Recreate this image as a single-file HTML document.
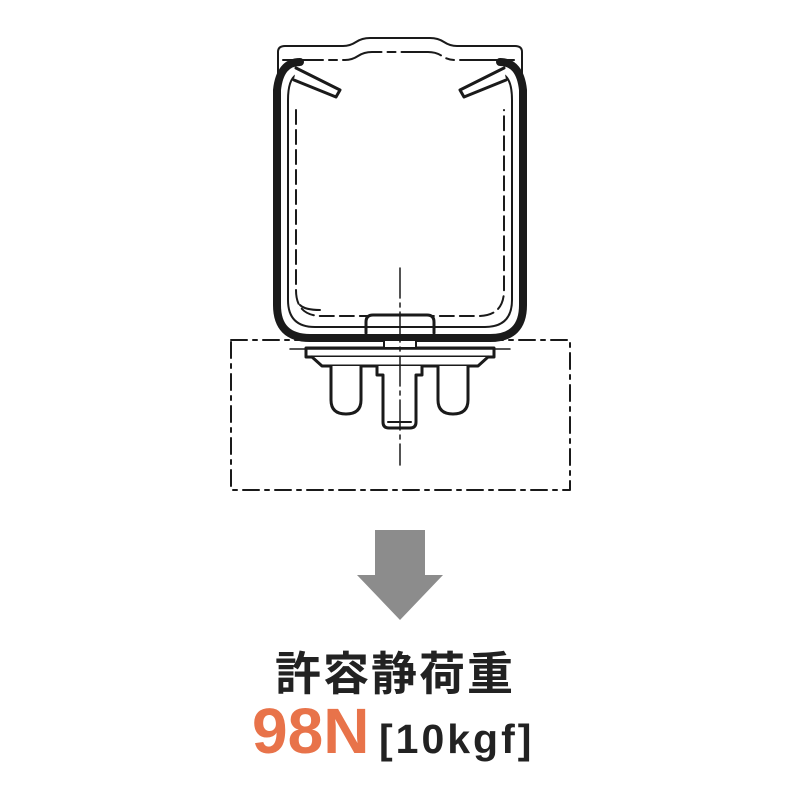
<!DOCTYPE html>
<html><head><meta charset="utf-8"><style>
html,body{margin:0;padding:0;background:#fff;width:800px;height:800px;overflow:hidden}
</style></head><body>
<svg width="800" height="800" viewBox="0 0 800 800" xmlns="http://www.w3.org/2000/svg">
<g fill="none" stroke="#1a1a1a" stroke-linecap="round" stroke-linejoin="round">
<path d="M278 100 V52 Q278 46 285 46 H343 Q350 46 356 42 Q362 38 370 38 H430 Q438 38 444 42 Q450 46 457 46 H515 Q522 46 522 52 V100" stroke-width="2"/>
<path d="M283 60 H345 Q352 60 358 56 Q364 52 372 52 H428 Q436 52 442 56 Q448 60 455 60 H517" stroke-width="2" stroke-dasharray="40 6 8 6"/>
<path d="M300 62 Q280 62 277 90 V305 Q277 338 310 338 H490 Q523 338 523 305 V90 Q520 62 500 62" stroke-width="8"/>
<path d="M296 75 Q288 80 288 100 V300 Q288 327 315 327 H485 Q512 327 512 300 V100 Q512 80 504 75" stroke-width="2"/>
<path d="M296 68 L340 90 L336 97 L294 80" stroke-width="3" fill="#fff"/>
<path d="M504 68 L460 90 L464 97 L506 80" stroke-width="3" fill="#fff"/>
<path d="M296 110 V290 Q296 316 322 316 H478 Q504 316 504 290 V110" stroke-width="2" stroke-dasharray="14 6"/>
<path d="M300 305 Q305 310 320 310" stroke-width="2"/>
<rect x="231" y="340" width="339" height="150" stroke-width="2" stroke-dasharray="16 6 4 6"/>
<path d="M366 333 V322 Q366 315 373 315 H427 Q434 315 434 322 V333" stroke-width="3" fill="#fff"/>
<line x1="367" y1="327" x2="433" y2="327" stroke-width="2"/>
<path d="M306 348 H494 V357 H306 Z" stroke-width="3" fill="#fff"/>
<path d="M312 357 L322 366 H478 L488 357" stroke-width="3" fill="#fff"/>
<line x1="290" y1="349" x2="510" y2="349" stroke-width="1.5"/>
<rect x="384" y="340" width="32" height="8" stroke-width="2" fill="#fff"/>
<path d="M331 366 V400 Q331 414 346 414 Q361 414 361 400 V366" stroke-width="3" fill="#fff"/>
<path d="M438 366 V400 Q438 414 453 414 Q468 414 468 400 V366" stroke-width="3" fill="#fff"/>
<path d="M377 366 V375 H383 V422 Q383 428 389 428 H410 Q416 428 416 422 V375 H422 V366" stroke-width="3" fill="#fff"/>
<line x1="388" y1="422" x2="411" y2="422" stroke-width="2"/>
<line x1="400" y1="268" x2="400" y2="465" stroke-width="1.5" stroke-dasharray="30 5 4 5"/>
</g>
<polygon points="375,530 425,530 425,575 443,575 400,620 357,575 375,575" fill="#8c8c8c"/>
<text x="395" y="690" text-anchor="middle" letter-spacing="2" font-family="'Liberation Sans','Noto Sans CJK JP',sans-serif" font-weight="bold" font-size="46" fill="#222">許容静荷重</text>
<text x="252" y="753" font-family="'Liberation Sans',sans-serif" font-weight="bold" font-size="64" fill="#e8734a">98N</text>
<text x="379" y="753" letter-spacing="3" font-family="'Liberation Sans',sans-serif" font-weight="bold" font-size="41" fill="#222">[10kgf]</text>
</svg>
</body></html>
